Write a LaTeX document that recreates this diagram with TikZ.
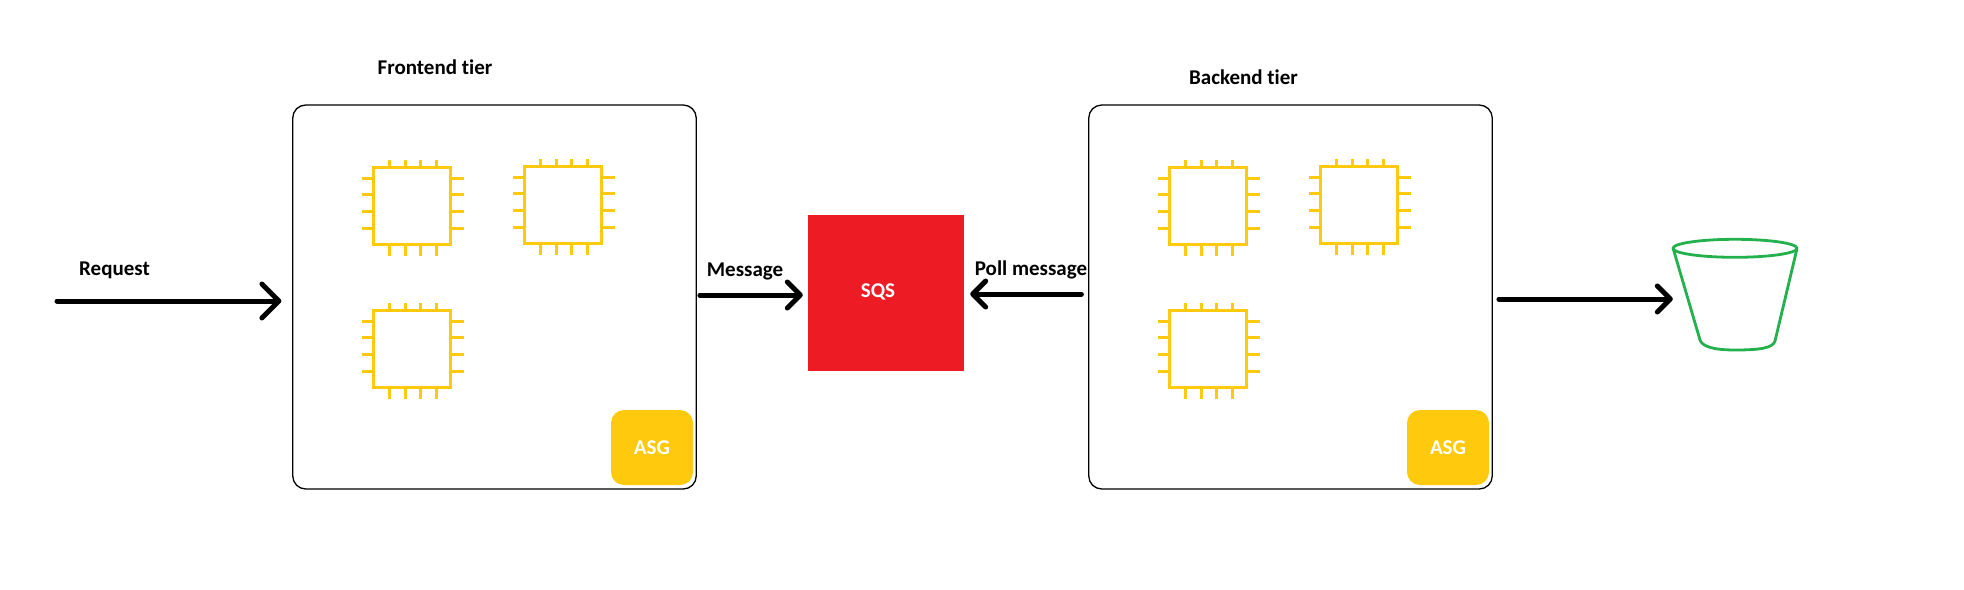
\documentclass[tikz,border=0pt]{standalone}
\usepackage{fontspec}
\setmainfont{Carlito}[Ligatures=NoCommon]
\usetikzlibrary{arrows.meta,calc}
\definecolor{chipyellow}{HTML}{FFCA0E}
\definecolor{sqsred}{HTML}{ED1C24}
\definecolor{bucketgreen}{HTML}{22B14C}
\tikzset{
  x=1pt,y=-1pt,
  label text/.style={font=\fontsize{21}{24}\selectfont\bfseries,text=black,inner sep=0pt},
  white text/.style={font=\fontsize{21}{24}\selectfont\bfseries,text=white},
  tier/.style={draw=black,line width=1.3pt,fill=white,rounded corners=13pt,minimum width=403.5pt,minimum height=384pt,inner sep=0pt},
  asg/.style={fill=chipyellow,rounded corners=13pt,minimum width=82pt,minimum height=75pt,inner sep=0pt,white text},
  queue/.style={fill=sqsred,minimum width=156pt,minimum height=156pt,inner sep=0pt,white text},
  flow/.style={draw=black,line width=5pt,line cap=round},
  flowbig/.style={flow,-{Straight Barb[length=17pt,width=34pt,line width=5pt,round]}},
  flowsmall/.style={flow,-{Straight Barb[length=13pt,width=26pt,line width=5pt,round]}},
  chip line/.style={draw=chipyellow,line width=3pt},
  chip/.pic={
    \draw[chip line] (0,0) rectangle (77.4,77);
    \foreach \p in {16,32,47,63}{
      \draw[chip line] (\p,-7.5) -- (\p,0);
      \draw[chip line] (\p,77) -- (\p,88.5);
    }
    \foreach \p in {11,27,44,61}{
      \draw[chip line] (-11,\p) -- (0,\p);
      \draw[chip line] (77.4,\p) -- (90.5,\p);
    }
  },
  bucket line/.style={draw=bucketgreen,line width=2.8pt,line join=round}
}
\begin{document}
\begin{tikzpicture}
\useasboundingbox[fill=white] (0,0) rectangle (1964,589);

% tiers
\node[tier] (front) at (494.5,297) {};
\node[tier] (back) at (1290.5,297) {};
\node[label text] (fronttitle) at (435,67) {Frontend tier};
\node[label text] (backtitle) at (1243.5,77) {Backend tier};

% instances
\pic at (373.3,167.3) {chip};
\pic at (524.3,166.3) {chip};
\pic at (373.3,310.3) {chip};
\pic at (1169.3,167.3) {chip};
\pic at (1320.3,166.3) {chip};
\pic at (1169.3,310.3) {chip};

% auto scaling badges
\node[asg] (asgf) at (652,447.5) {ASG};
\node[asg] (asgb) at (1448,447.5) {ASG};

% queue
\node[queue] (sqs) at (886,293) {};
\node[white text,inner sep=0pt] (sqslabel) at (878,292) {SQS};

% bucket
\node[minimum width=124pt,minimum height=111pt,inner sep=0pt] (bucket) at (1735,294.5) {};
\draw[bucket line] (1735,248.3) ellipse [x radius=62,y radius=9];
\draw[bucket line] (1673,248) -- (1700,340)
  .. controls (1702,346) and (1712,350) .. (1735,350)
  .. controls (1760,350) and (1773,348) .. (1775,341) -- (1797,248.5);

% connectors
\coordinate (reqstart) at (57,301);
\coordinate (msgrow) at (0,295);
\coordinate (pollrow) at (0,294);
\coordinate (storerow) at (0,299);
\draw[flowbig,shorten >=10.7pt] (reqstart) -- (reqstart -| front.west);
\draw[flowsmall,shorten <=3pt,shorten >=5pt] (front.east |- msgrow) -- (sqs.west |- msgrow);
\draw[flowsmall,shorten <=6.7pt,shorten >=6pt] (back.west |- pollrow) -- (sqs.east |- pollrow);
\draw[flowsmall,shorten <=6pt] (back.east |- storerow) -- (bucket.west |- storerow);

% labels
\node[label text] (reqlabel) at (114.5,270) {Request};
\node[label text] (msglabel) at (745,271) {Message};
\node[label text] (polllabel) at (1031,270) {Poll message};
\end{tikzpicture}
\end{document}
